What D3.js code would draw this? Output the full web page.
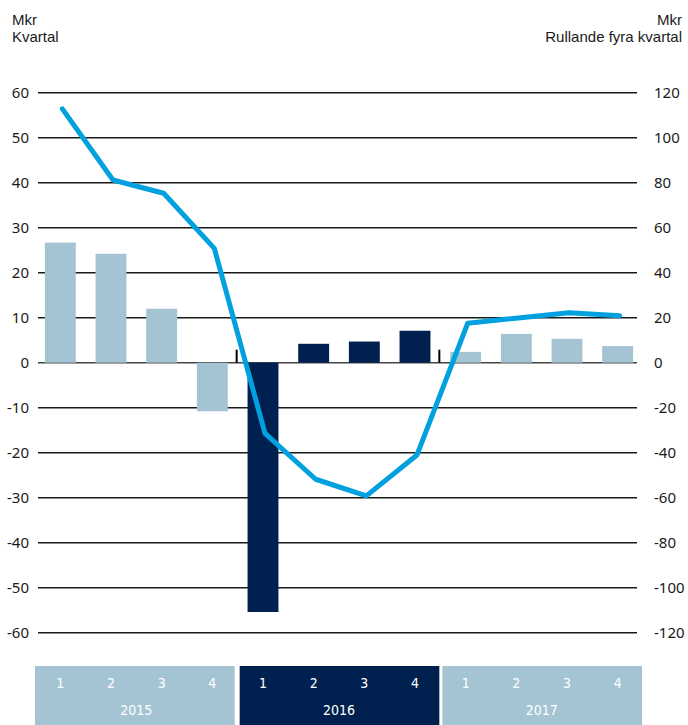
<!DOCTYPE html>
<html>
<head>
<meta charset="utf-8">
<script src="https://cdn.jsdelivr.net/npm/d3@7"></script>
<style>
  body { margin: 0; background: #fff; }
  text { font-family: "Noto Sans", "Open Sans", sans-serif; fill: #1a1a1a; }
  .title { font-family: "Liberation Sans", "Noto Sans", sans-serif; }
  .box text { font-family: "DejaVu Sans Condensed", "Liberation Sans Narrow", "Noto Sans", sans-serif; fill: #fff; }
</style>
</head>
<body>
<svg width="688" height="725"></svg>
<script>
var quarters = ["1", "2", "3", "4", "1", "2", "3", "4", "1", "2", "3", "4"];
var years = ["2015", "2016", "2017"];
// kvartal (venstre akse)
var quarterly = [26.7, 24.2, 12.0, -10.8, -55.4, 4.2, 4.7, 7.1, 2.4, 6.4, 5.3, 3.7];
// rullande fyra kvartal (høgre akse)
var rolling = [112.8, 81.2, 75.3, 50.8, -31.4, -51.8, -59.2, -41.0, 17.5, 19.9, 22.2, 20.9];
var leftTicks = [60, 50, 40, 30, 20, 10, 0, -10, -20, -30, -40, -50, -60];
var rightTicks = [120, 100, 80, 60, 40, 20, 0, -20, -40, -60, -80, -100, -120];

var lightBlue = "#a5c4d3",
  navy = "#00214f",
  lineBlue = "#00a1de";

var svg = d3.select("svg");

var x = d3.scaleBand()
  .domain(d3.range(quarters.length))
  .range([35, 643])
  .paddingInner(0.39)
  .paddingOuter(0.195);

var yL = d3.scaleLinear().domain([-60, 60]).range([632.7, 92.7]);
var yR = d3.scaleLinear().domain([-120, 120]).range([632.7, 92.7]);

function barColor(i) {
  return Math.floor(i / 4) === 1 ? navy : lightBlue;
}

// titlar
svg.append("text").attr("class", "title").attr("x", 12).attr("y", 24.5).style("font-size", "15px").text("Mkr");
svg.append("text").attr("class", "title").attr("x", 12).attr("y", 41.5).style("font-size", "15px").text("Kvartal");
svg.append("text").attr("class", "title").attr("x", 682).attr("y", 24.5).attr("text-anchor", "end").style("font-size", "15px").text("Mkr");
svg.append("text").attr("class", "title").attr("x", 682).attr("y", 41.5).attr("text-anchor", "end").style("font-size", "15px").text("Rullande fyra kvartal");

// rutenett
svg.append("g")
  .selectAll("line")
  .data(leftTicks)
  .enter().append("line")
  .attr("x1", 38)
  .attr("x2", 637)
  .attr("y1", function(d) { return yL(d); })
  .attr("y2", function(d) { return yL(d); })
  .style("stroke", function(d) { return d === 0 ? "#444" : "#1a1a1a"; })
  .style("stroke-width", 1.6);

svg.append("g")
  .selectAll("text")
  .data(leftTicks)
  .enter().append("text")
  .attr("x", 29)
  .attr("y", function(d) { return yL(d) + 5; })
  .attr("text-anchor", "end")
  .style("font-size", "15px")
  .text(function(d) { return d; });

svg.append("g")
  .selectAll("text")
  .data(rightTicks)
  .enter().append("text")
  .attr("x", 654)
  .attr("y", function(d) { return yR(d) + 5; })
  .style("font-size", "15px")
  .text(function(d) { return d; });

// søyler
svg.append("g")
  .selectAll("rect")
  .data(quarterly)
  .enter().append("rect")
  .attr("x", function(d, i) { return x(i); })
  .attr("width", x.bandwidth())
  .attr("y", function(d) { return yL(Math.max(0, d)); })
  .attr("height", function(d) { return Math.abs(yL(d) - yL(0)); })
  .style("fill", function(d, i) { return barColor(i); });

// årsskilje
svg.append("g")
  .selectAll("line")
  .data([4, 8])
  .enter().append("line")
  .attr("x1", function(d) { return x(d) - x.step() * x.paddingInner() / 2 - 1; })
  .attr("x2", function(d) { return x(d) - x.step() * x.paddingInner() / 2 - 1; })
  .attr("y1", yL(0) - 13)
  .attr("y2", yL(0))
  .style("stroke", "#000")
  .style("stroke-width", 2);

// linje
var line = d3.line()
  .x(function(d, i) { return x(i) + x.bandwidth() / 2 + 2; })
  .y(function(d) { return yR(d); });

svg.append("path")
  .datum(rolling)
  .attr("d", line)
  .style("fill", "none")
  .style("stroke", lineBlue)
  .style("stroke-width", 5)
  .style("stroke-linejoin", "round")
  .style("stroke-linecap", "round");

// x-akse med årsboksar
var box = svg.append("g").attr("class", "box");
var x0 = x.range()[0];

box.selectAll("rect")
  .data(years)
  .enter().append("rect")
  .attr("x", function(d, i) { return x0 + i * 4 * x.step() + (i > 0 ? 2 : 0); })
  .attr("width", function(d, i) { return 4 * x.step() - 3; })
  .attr("y", 666)
  .attr("height", 59)
  .style("fill", function(d, i) { return i === 1 ? navy : lightBlue; });

box.selectAll("text.q")
  .data(quarters)
  .enter().append("text")
  .attr("class", "q")
  .attr("x", function(d, i) { return x(i) + x.bandwidth() / 2; })
  .attr("y", 688)
  .attr("text-anchor", "middle")
  .style("font-size", "14px")
  .text(function(d) { return d; });

box.selectAll("text.y")
  .data(years)
  .enter().append("text")
  .attr("class", "y")
  .attr("x", function(d, i) { return x0 + (i * 4 + 2) * x.step(); })
  .attr("y", 715)
  .attr("text-anchor", "middle")
  .style("font-size", "14px")
  .text(function(d) { return d; });
</script>
</body>
</html>
